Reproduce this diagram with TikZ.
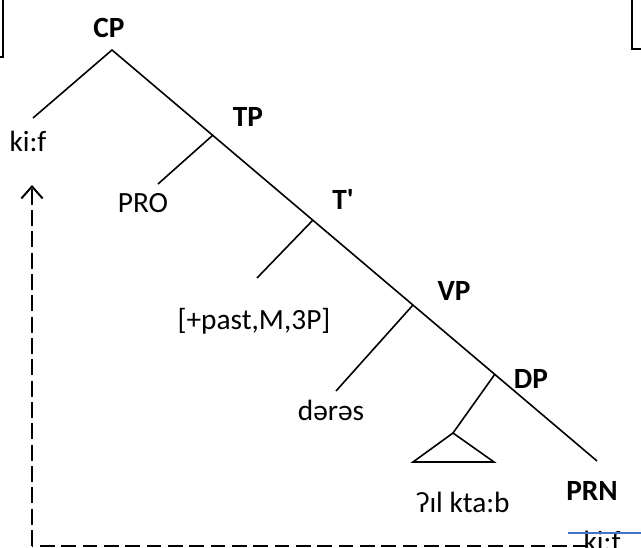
\documentclass[tikz,border=0pt]{standalone}
\usepackage{fontspec}
\setmainfont{Carlito}[Ligatures=TeXOff]
\usetikzlibrary{arrows.meta}
\begin{document}
\begin{tikzpicture}[x=0.75pt,y=-0.75pt,
  lbl/.style={font=\fontsize{22}{26}\selectfont, inner sep=0pt},
  cat/.style={font=\fontsize{22}{26}\selectfont\bfseries, inner sep=0pt},
  br/.style={line width=1.2pt},
  dashline/.style={line width=1.5pt}]
\useasboundingbox (0,0) rectangle (641,548);
% box fragments at the edges
\draw[line width=1pt] (-5,-5) rectangle (3,57);
\draw[line width=1pt] (632,-5) rectangle (650,49);
% tree points
\coordinate (cp) at (112,50);
\coordinate (tp) at (213,135);
\coordinate (tb) at (313,220);
\coordinate (vp) at (413,305);
\coordinate (dp) at (495,374);
\coordinate (end) at (597,461);
\coordinate (ckif) at (33,118);
\coordinate (cpro) at (158,184);
\coordinate (ctense) at (257,278);
\coordinate (cverb) at (336,391);
\coordinate (apex) at (453,433);
\coordinate (bl) at (413,462);
\coordinate (brr) at (494,462);
\draw[br] (ckif) -- (cp) -- (end);
\draw[br] (tp) -- (cpro);
\draw[br] (tb) -- (ctense);
\draw[br] (vp) -- (cverb);
\draw[br] (dp) -- (apex);
\draw[br] (apex) -- (bl) -- (brr) -- cycle;
% labels
\node[cat] (CP) at (109,28) {CP};
\node[cat] (TP) at (248,117) {TP};
\node[cat] (Tb) at (343,199) {T'};
\node[cat] (VP) at (454,291) {VP};
\node[cat] (DP) at (531,379) {DP};
\node[cat] (PRN) at (592,491) {PRN};
\node[lbl] (kif) at (28,141) {ki:f};
\node[lbl] (pro) at (143,203) {PRO};
\node[lbl] (tense) at (254,321) {[+past,M,3P]};
\node[lbl] (verb) at (331,410) {dərəs};
\node[lbl] (obj) at (463,502) {ʔɪl kta:b};
\node[lbl] (kib) at (602,541) {ki:f};
\draw[line width=1.2pt, color={rgb,255:red,68;green,114;blue,196}] (568,533) -- (641,533);
% movement arrow
\coordinate (corner) at (32,546);
\coordinate (hend) at (588,546);
\coordinate (tip) at (32,185);
\draw[dashline, dash pattern=on 11pt off 5pt] (hend) -- (corner);
\draw[dashline, dash pattern=on 12pt off 4pt, -{Straight Barb[length=9pt,width=16pt,line width=1.5pt]}] (corner) -- (tip);
\end{tikzpicture}
\end{document}
